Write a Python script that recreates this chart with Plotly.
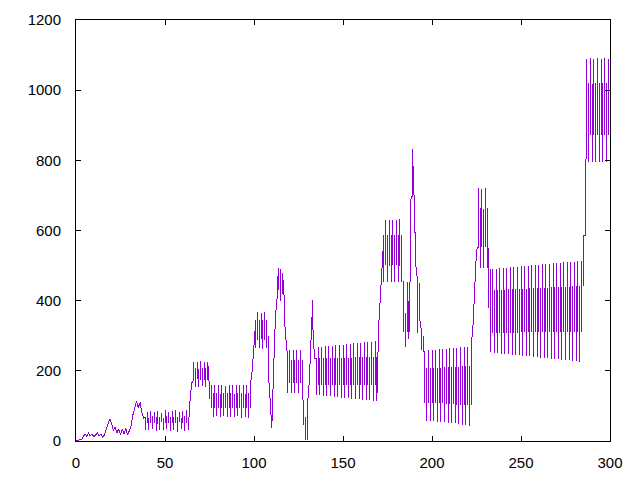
import plotly.graph_objects as go

# ---- data: for each integer x (0..300) the line visits two y values ----
# x 0-38 : low wiggles and two small bumps
first_a = [0, 2, 3, 3, 12, 20, 14, 22, 15, 20, 12, 18, 23, 14, 20, 10, 18,
           35, 52, 63, 50, 30, 40, 22, 35, 18, 33, 20, 37, 17, 30, 45,
           75, 100, 115, 95, 110, 80, 65]
second_a = list(first_a)
# x 39-63
first_b = [68, 51, 66, 50, 70, 52, 67, 49, 69, 53, 66, 50, 70, 51, 68, 52, 67, 50, 69, 53, 66, 51, 70, 52, 68]
second_b = [31, 84, 30, 86, 33, 82, 28, 85, 32, 80, 30, 87, 34, 83, 29, 86, 31, 88, 27, 84, 33, 86, 28, 88, 30]
# x 64-75
first_c = [110, 165, 174, 208, 176, 206, 173, 209, 175, 207, 174, 150]
second_c = [110, 165, 226, 155, 224, 154, 227, 156, 225, 153, 226, 120]
# x 76-98
first_d = [94, 136, 95, 137, 93, 135, 94, 136, 95, 137, 93, 136, 94, 135, 95, 137, 94, 136, 93, 135, 95, 136, 94]
second_d = [160, 69, 159, 70, 161, 68, 160, 70, 158, 67, 160, 69, 161, 68, 159, 70, 160, 66, 161, 68, 160, 65, 162]
# x 99-118
first_e = [200, 260, 345, 288, 344, 290, 346, 289, 345, 300, 122, 37, 200, 350, 410, 430, 400, 420, 407, 288]
second_e = [200, 260, 264, 368, 265, 366, 262, 369, 264, 200, 122, 37, 200, 350, 470, 493, 490, 480, 350, 288]
# x 119-134
first_f = [231, 165, 232, 166, 230, 164, 231, 165, 230, 102, 68, 3, 165, 300, 402, 236]
second_f = [137, 259, 138, 258, 136, 260, 137, 259, 137, 46, 3, 100, 165, 300, 330, 236]
# x 135-169
first_g = [236, 161, 236, 160, 236, 161, 237, 160, 237, 161, 237, 160, 237, 160, 238, 161, 238, 160,
           238, 160, 238, 161, 239, 160, 239, 160, 239, 161, 239, 160, 240, 160, 240, 161, 240]
second_g = [131, 268, 130, 269, 129, 270, 128, 271, 127, 272, 126, 273, 125, 274, 124, 275, 123, 276,
            122, 277, 121, 278, 120, 279, 119, 280, 118, 281, 117, 282, 116, 283, 115, 285, 114]
# x 170-195
first_h = [325, 410, 501, 587, 501, 588, 500, 587, 502, 586, 501, 588, 500, 587,
           455, 364, 453, 400, 544, 700, 687, 593, 450, 450, 316, 300]
second_h = [325, 410, 501, 453, 630, 454, 631, 452, 629, 453, 630, 454, 632, 453,
            310, 268, 310, 290, 687, 832, 593, 496, 308, 350, 259, 254]
# x 196-222
first_i = [109, 207, 109, 207, 108, 208, 108, 208, 107, 209, 107, 210, 106, 210, 106, 211, 105, 211,
           104, 212, 104, 213, 103, 213, 103, 214, 102]
second_i = [257, 58, 258, 57, 259, 56, 260, 55, 261, 54, 262, 53, 263, 52, 264, 51, 265, 50,
            266, 48, 267, 47, 268, 46, 268, 44, 269]
# x 223-233
first_j = [325, 436, 544, 553, 663, 554, 662, 553, 663, 550, 490]
second_j = [325, 436, 544, 720, 493, 719, 494, 721, 492, 380, 255]
# x 234-284
first_k = [308, 430, 308, 430, 308, 431, 309, 431, 309, 432, 309, 432, 309, 433, 309, 433,
           310, 434, 310, 434, 310, 435, 310, 435, 310, 436, 310, 436, 311, 437, 311, 437,
           311, 438, 311, 438, 311, 439, 311, 439, 312, 440, 312, 440, 312, 441, 312, 441,
           312, 441, 312]
second_k = [490, 251, 491, 250, 492, 249, 493, 248, 494, 247, 495, 246, 496, 245, 497, 244,
            498, 243, 499, 242, 500, 241, 501, 240, 502, 239, 503, 238, 504, 237, 504, 236,
            505, 235, 506, 234, 507, 233, 508, 232, 509, 231, 509, 230, 510, 228, 511, 227,
            512, 225, 513]
# x 285-300
first_l = [441, 587, 872, 1020, 872, 1019, 873, 1020, 872, 1021, 871, 1020, 872, 1020, 873, 1020]
second_l = [587, 729, 1090, 795, 1091, 796, 1090, 794, 1092, 795, 1090, 796, 1091, 794, 1090, 800]

y_first = (first_a + first_b + first_c + first_d + first_e + first_f + first_g +
           first_h + first_i + first_j + first_k + first_l)
y_second = (second_a + second_b + second_c + second_d + second_e + second_f + second_g +
            second_h + second_i + second_j + second_k + second_l)
x_values = list(range(len(y_first)))
assert len(y_first) == 301 and len(y_second) == 301

x_ticks = [0, 50, 100, 150, 200, 250, 300]
y_ticks = [0, 200, 400, 600, 800, 1000, 1200]

# path: neighbouring two-valued x positions whose spans overlap are drawn as
# separate vertical strokes; everything else is joined as a normal polyline
xs, ys = [], []
n = len(x_values)
for i in range(n):
    a, b = y_first[i], y_second[i]
    xs.append(x_values[i]); ys.append(a)
    if b != a:
        xs.append(x_values[i]); ys.append(b)
    if i + 1 < n:
        c, d = y_first[i + 1], y_second[i + 1]
        overlap = min(max(a, b), max(c, d)) - max(min(a, b), min(c, d))
        if b != a and d != c and overlap > 0:
            xs.append(None); ys.append(None)

fig = go.Figure(go.Scatter(x=xs, y=ys, mode="lines", connectgaps=False,
                           line=dict(color="#9400D3", width=1), showlegend=False))

axis_common = dict(showgrid=False, zeroline=False, showline=True, mirror="ticks",
                   linecolor="black", linewidth=1, ticks="inside", ticklen=5,
                   tickcolor="black", tickwidth=1, automargin=False,
                   tickfont=dict(family="Liberation Sans", size=15, color="black"))
fig.update_xaxes(range=[0, 300], tickvals=x_ticks, ticktext=[str(t) for t in x_ticks],
                 ticklabelstandoff=8, **axis_common)
fig.update_yaxes(range=[0, 1200], tickvals=y_ticks, ticktext=[str(t) for t in y_ticks],
                 ticklabelstandoff=11, **axis_common)
fig.update_layout(width=640, height=480, autosize=False,
                  margin=dict(l=76, r=30, t=20, b=39),
                  paper_bgcolor="white", plot_bgcolor="white")

post = ("document.body.style.margin='0';"
        "var gd=document.getElementById('{plot_id}');"
        "gd.querySelectorAll('.scatterlayer path, .xlines-above, .ylines-above, path.xtick, path.ytick')"
        ".forEach(function(p){p.setAttribute('shape-rendering','crispEdges');});")
fig.write_html("out.html", post_script=post, config={"displayModeBar": False})
